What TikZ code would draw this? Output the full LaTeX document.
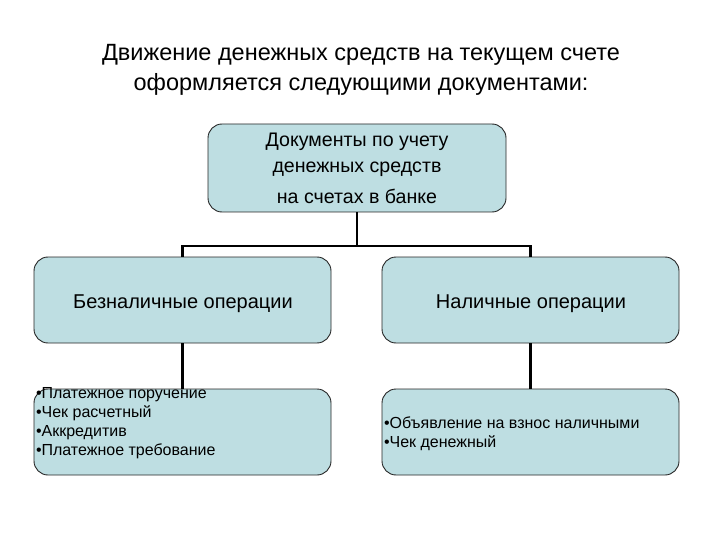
\documentclass[tikz,border=0pt]{standalone}
\usepackage{fontspec}
\setmainfont{Liberation Sans}
\definecolor{boxfill}{RGB}{190,222,226}
\begin{document}
\begin{tikzpicture}[x=1pt,y=-1pt,
  box/.style={draw=black!85, line width=0.9pt, fill=boxfill, rounded corners=14pt, inner sep=0pt},
  conn/.style={draw=black, line width=2.2pt},
  txt/.style={inner sep=0pt, outer sep=0pt}]
\useasboundingbox (0,0) rectangle (720,540);
% title
\node[txt, anchor=base, font=\fontsize{23.5}{30}\selectfont] (t1) at (361,61) {Движение денежных средств на текущем счете};
\node[txt, anchor=base, font=\fontsize{23.5}{30}\selectfont] (t2) at (361,91) {оформляется следующими документами:};
% boxes
\node[box, minimum width=298, minimum height=88] (top) at (357,168) {};
\node[box, minimum width=297, minimum height=86] (lmid) at (182.5,300) {};
\node[box, minimum width=297, minimum height=86] (rmid) at (530.5,300) {};
\node[box, minimum width=297, minimum height=86] (lbot) at (182.5,432) {};
\node[box, minimum width=297, minimum height=86] (rbot) at (530.5,432) {};
% connectors
\coordinate (bus) at (357,246);
\draw[conn] (top.south) -- (bus);
\draw[conn] (lmid.north) |- (bus) -| (rmid.north);
\draw[conn] (lmid.south) -- (lbot.north);
\draw[conn] (rmid.south) -- (rbot.north);
% texts
\node[txt, anchor=north, align=center, font=\fontsize{19.6}{26}\selectfont] (toptext) at (357,133)
  {Документы по учету\\денежных средств\\[5pt]на счетах в банке};
\node[txt, anchor=base, font=\fontsize{20}{22}\selectfont] (lmidtext) at (183,308) {Безналичные операции};
\node[txt, anchor=base, font=\fontsize{20}{22}\selectfont] (rmidtext) at (531,308) {Наличные операции};
\node[txt, anchor=north west, align=left, font=\fontsize{16}{19}\selectfont] (lbottext) at (36,387.5)
  {•Платежное поручение\\•Чек расчетный\\•Аккредитив\\•Платежное требование};
\node[txt, anchor=north west, align=left, font=\fontsize{16}{19}\selectfont] (rbottext) at (384,417)
  {•Объявление на взнос наличными\\•Чек денежный};
\end{tikzpicture}
\end{document}
